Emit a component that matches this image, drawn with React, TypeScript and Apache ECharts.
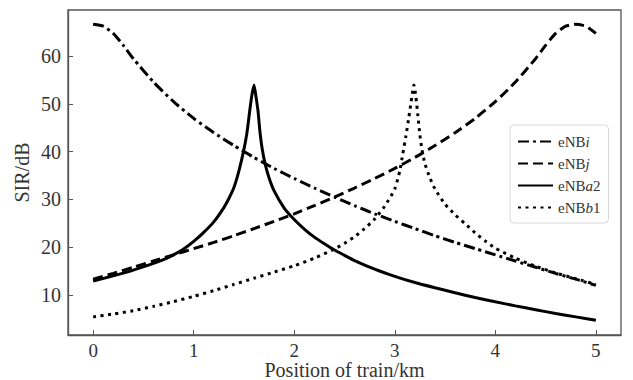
import React, { useEffect, useRef } from "react";
import * as echarts from "echarts";

const xTicks = [0, 1, 2, 3, 4, 5];
const yTicks = [10, 20, 30, 40, 50, 60];

const seriesNames = ["eNBi", "eNBj", "eNBa2", "eNBb1"];

const eNBiX = [0, 0.1, 0.2, 0.3, 0.4, 0.6, 0.8, 1.0, 1.2, 1.4, 1.6, 1.8, 2.0, 2.2, 2.4, 2.6, 2.8, 3.0, 3.2, 3.4, 3.6, 3.8, 4.0, 4.2, 4.4, 4.6, 4.8, 5.0];
const eNBiY = [66.7, 66.3, 64.8, 62.3, 59.5, 54.6, 50.5, 47.0, 44.0, 41.3, 38.8, 36.5, 34.4, 32.4, 30.5, 28.7, 27.0, 25.4, 23.9, 22.4, 21.0, 19.7, 18.4, 17.1, 15.8, 14.5, 13.3, 12.0];

const eNBjX = [0, 0.2, 0.4, 0.6, 0.8, 1.0, 1.2, 1.4, 1.6, 1.8, 2.0, 2.2, 2.4, 2.6, 2.8, 3.0, 3.2, 3.4, 3.6, 3.8, 4.0, 4.2, 4.4, 4.5, 4.6, 4.7, 4.8, 4.9, 5.0];
const eNBjY = [13.3, 14.5, 15.8, 17.1, 18.4, 19.7, 21.0, 22.4, 23.9, 25.4, 27.0, 28.7, 30.5, 32.4, 34.4, 36.5, 38.8, 41.3, 44.0, 47.0, 50.5, 54.6, 59.5, 62.3, 64.8, 66.3, 66.7, 66.3, 64.8];

const eNBa2X = [0, 0.2, 0.4, 0.6, 0.7, 0.8, 0.9, 1.0, 1.1, 1.2, 1.3, 1.35, 1.4, 1.45, 1.5, 1.53, 1.56, 1.58, 1.6, 1.62, 1.64, 1.66, 1.68, 1.71, 1.75, 1.8, 1.9, 2.0, 2.1, 2.2, 2.3, 2.4, 2.5, 2.6, 2.8, 3.0, 3.2, 3.4, 3.6, 3.8, 4.0, 4.2, 4.4, 4.6, 4.8, 5.0];
const eNBa2Y = [12.9, 14.0, 15.2, 16.6, 17.4, 18.4, 19.6, 21.2, 23.1, 25.3, 28.3, 30.2, 32.5, 36.0, 40.5, 44.0, 49.0, 52.0, 54.0, 51.5, 48.5, 44.0, 40.8, 37.5, 34.5, 31.8, 28.2, 25.8, 23.8, 22.1, 20.7, 19.4, 18.3, 17.2, 15.4, 13.9, 12.6, 11.5, 10.45, 9.45, 8.55, 7.7, 6.9, 6.1, 5.4, 4.7];

const eNBb1X = [0, 0.2, 0.4, 0.6, 0.8, 1.0, 1.2, 1.4, 1.6, 1.8, 2.0, 2.2, 2.4, 2.5, 2.6, 2.7, 2.8, 2.9, 3.0, 3.05, 3.08, 3.11, 3.14, 3.17, 3.19, 3.21, 3.23, 3.25, 3.27, 3.3, 3.35, 3.4, 3.5, 3.6, 3.7, 3.8, 3.9, 4.0, 4.2, 4.4, 4.6, 4.8, 5.0];
const eNBb1Y = [5.4, 6.0, 6.7, 7.6, 8.6, 9.7, 10.9, 12.2, 13.5, 14.8, 16.1, 17.7, 19.6, 20.8, 22.2, 23.9, 25.9, 28.6, 32.2, 36.0, 39.6, 43.2, 47.2, 51.5, 54.0, 51.5, 47.5, 43.5, 40.5, 37.5, 34.5, 32.2, 29.0, 26.8, 24.9, 23.0, 21.3, 19.8, 17.7, 16.0, 14.6, 13.4, 12.2];

const FONT = "'Liberation Serif', 'Times New Roman', serif";

function pairs(xs: number[], ys: number[]) {
  return xs.map((x, i) => [x, ys[i]]);
}

const lineTypes: any[] = [
  [11, 4, 3, 4],
  [10, 5],
  "solid",
  [3, 4.5],
];

export default function App() {
  const ref = useRef<HTMLDivElement>(null);
  useEffect(() => {
    if (!ref.current) return;
    const chart = echarts.init(ref.current, null, { renderer: "svg" });
    const datasets = [
      pairs(eNBiX, eNBiY),
      pairs(eNBjX, eNBjY),
      pairs(eNBa2X, eNBa2Y),
      pairs(eNBb1X, eNBb1Y),
    ];
    chart.setOption({
      animation: false,
      backgroundColor: "#fff",
      grid: {
        left: 68,
        right: 12,
        top: 10,
        bottom: 45,
        show: true,
        borderColor: "#555",
        borderWidth: 1.3,
        outerBoundsMode: "none",
        containLabel: false,
      },
      legend: {
        orient: "vertical",
        left: 510,
        top: 125,
        padding: [9, 8, 8, 7],
        itemGap: 7,
        itemWidth: 35,
        itemHeight: 14,
        backgroundColor: "#fff",
        borderColor: "#d8d8d8",
        borderWidth: 1,
        borderRadius: 4,
        data: seriesNames,
        itemStyle: { color: "rgba(0,0,0,0)", borderWidth: 0, opacity: 0 },
        formatter: (name: string) => {
          const m = name.match(/^eNB([a-z])(\d*)$/);
          if (!m) return name;
          return "eNB{it|" + m[1] + "}" + m[2];
        },
        textStyle: {
          fontFamily: FONT,
          fontSize: 15,
          color: "#333",
          rich: {
            it: { fontFamily: FONT, fontSize: 15, fontStyle: "italic", color: "#333" },
          },
        },
      },
      xAxis: {
        type: "value",
        min: -0.25,
        max: 5.25,
        name: "Position of train/km",
        nameLocation: "middle",
        nameGap: 25,
        nameMoveOverlap: false,
        nameTextStyle: { fontFamily: FONT, fontSize: 20, color: "#333", verticalAlign: "top", lineHeight: 20 },
        axisLine: { show: true, onZero: false, lineStyle: { color: "#555", width: 1.3 } },
        axisTick: { show: true, inside: true, length: 5, customValues: xTicks, lineStyle: { color: "#555" } },
        axisLabel: { customValues: xTicks, fontFamily: FONT, fontSize: 19, lineHeight: 19, color: "#333", margin: 6 },
        splitLine: { show: false },
      },
      yAxis: {
        type: "value",
        min: 1.6,
        max: 69.7,
        name: "SIR/dB",
        nameLocation: "middle",
        nameGap: 36,
        nameMoveOverlap: false,
        nameTextStyle: { fontFamily: FONT, fontSize: 20, color: "#333", verticalAlign: "bottom" },
        axisLine: { show: true, onZero: false, lineStyle: { color: "#555", width: 1.3 } },
        axisTick: { show: true, inside: true, length: 5, customValues: yTicks, lineStyle: { color: "#555" } },
        axisLabel: { customValues: yTicks, fontFamily: FONT, fontSize: 20, color: "#333", margin: 7 },
        splitLine: { show: false },
      },
      series: seriesNames.map((name, i) => ({
        name,
        type: "line",
        data: datasets[i],
        symbol: "none",
        showSymbol: false,
        smooth: 0.2,
        lineStyle: { color: "#000", width: 3, type: lineTypes[i], cap: "butt" },
        itemStyle: { color: "#000" },
      })),
    });
    return () => chart.dispose();
  }, []);
  return (
    <div
      ref={ref}
      style={{ position: "absolute", left: 0, top: 0, width: 633, height: 380 }}
    />
  );
}
